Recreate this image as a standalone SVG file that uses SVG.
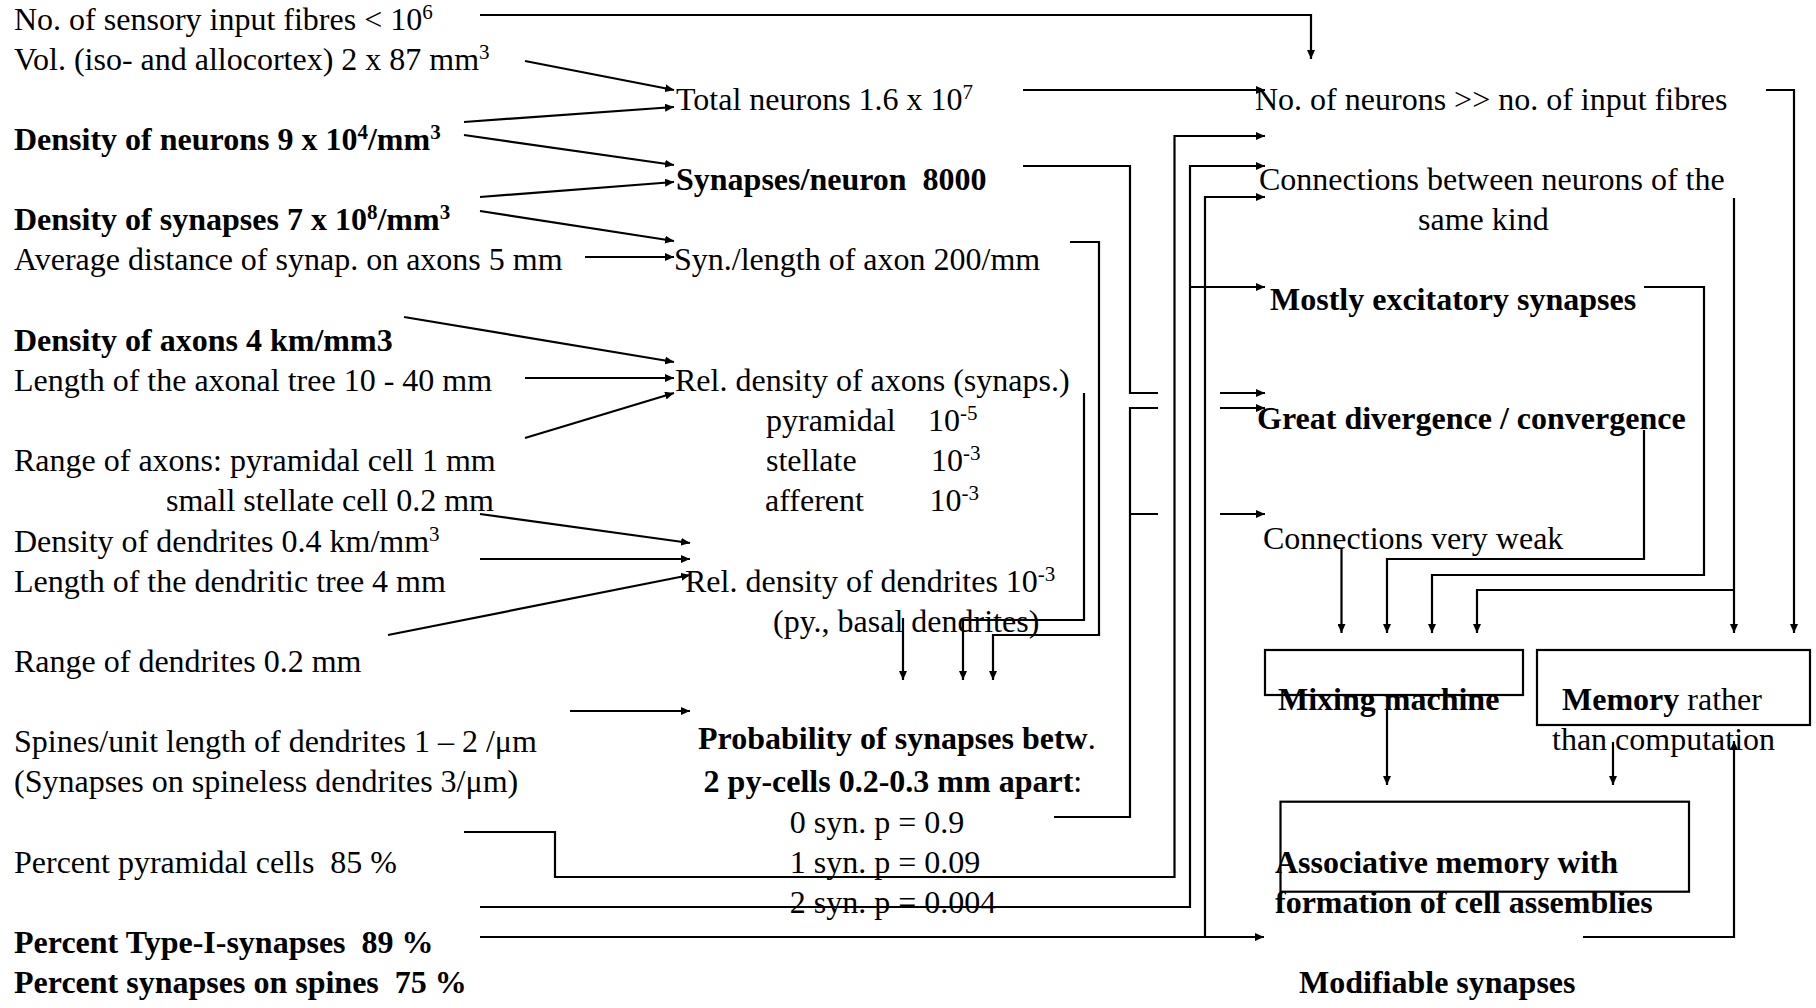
<svg xmlns="http://www.w3.org/2000/svg" width="1816" height="1008" viewBox="0 0 1816 1008">
  <style>
    text { font-family: "Liberation Serif", "Times New Roman", serif; font-size: 32px; fill: #000; }
    .b { font-weight: bold; }
    .sup { font-size: 21px; }
    .ln { fill: none; stroke: #000; stroke-width: 2.2; }
    .ar { fill: none; stroke: #000; stroke-width: 2.2; marker-end: url(#ah); }
    .box { fill: none; stroke: #000; stroke-width: 2.2; }
  </style>
  <defs>
    <marker id="ah" markerWidth="9" markerHeight="8" refX="9" refY="4" orient="auto" markerUnits="userSpaceOnUse">
      <path d="M0,0 L9,4 L0,8 z" fill="#000"/>
    </marker>
  </defs>

  <rect width="1816" height="1008" fill="#fff"/>

  <!-- connectors -->
  <g id="connectors">
    <path class="ar" d="M480,15 H1311 V59"/>
    <path class="ar" d="M525,61 L674,90"/>
    <path class="ar" d="M464,122 L674,107"/>
    <path class="ar" d="M464,135 L674,165"/>
    <path class="ar" d="M480,197 L674,182"/>
    <path class="ar" d="M480,211 L674,241"/>
    <path class="ar" d="M585,257 H674"/>
    <path class="ar" d="M1023,90 H1265"/>
    <path class="ln" d="M1023,166 H1130 V393 H1158"/>
    <path class="ar" d="M1220,393 H1265"/>
    <path class="ar" d="M1070,242 H1099 V635 H993 V680"/>
    <path class="ar" d="M404,317 L674,362"/>
    <path class="ar" d="M525,378 H674"/>
    <path class="ar" d="M525,438 L674,393"/>
    <path class="ar" d="M1084,393 V620 H963 V680"/>
    <path class="ar" d="M480,514 L690,543"/>
    <path class="ar" d="M480,559 H690"/>
    <path class="ar" d="M388,635 L690,575"/>
    <path class="ar" d="M903,618 V680"/>
    <path class="ar" d="M570,711 H690"/>
    <path class="ln" d="M1054,817 H1130 V408 H1158 M1130,514 H1158"/>
    <path class="ar" d="M1220,408 H1265"/>
    <path class="ar" d="M1220,514 H1265"/>
    <path class="ar" d="M464,832 H555 V877 H1174.5 V136 H1265"/>
    <path class="ar" d="M480,907 H1190 V166 H1265"/>
    <path class="ar" d="M1190,287 H1265"/>
    <path class="ar" d="M480,937 H1264"/>
    <path class="ar" d="M1205,937 V197 H1265"/>
    <path class="ar" d="M1766,90 H1794 V633"/>
    <path class="ar" d="M1734,198 V633"/>
    <path class="ar" d="M1734,590 H1477 V633"/>
    <path class="ar" d="M1644,287 H1704 V575 H1432 V633"/>
    <path class="ar" d="M1644,430 V559 H1387 V633"/>
    <path class="ar" d="M1341.5,548 V633"/>
    <path class="ar" d="M1387,710 V785"/>
    <path class="ar" d="M1613,742 V785"/>
    <path class="ar" d="M1583,937 H1734 V741"/>
  </g>

  <!-- input quantities -->
  <g id="n-sensory"><text x="14" y="29.5">No. of sensory input fibres &lt; 10<tspan class="sup" dy="-11">6</tspan></text></g>
  <g id="n-volume"><text x="14" y="69.6">Vol. (iso- and allocortex) 2 x 87 mm<tspan class="sup" dy="-11">3</tspan></text></g>
  <g id="n-neuron-density"><text class="b" x="14" y="149.9">Density of neurons 9 x 10<tspan class="sup" dy="-11">4</tspan><tspan dy="11">/mm</tspan><tspan class="sup" dy="-11">3</tspan></text></g>
  <g id="n-synapse-density"><text class="b" x="14" y="230.2">Density of synapses 7 x 10<tspan class="sup" dy="-11">8</tspan><tspan dy="11">/mm</tspan><tspan class="sup" dy="-11">3</tspan></text></g>
  <g id="n-synapse-distance"><text x="14" y="270.4">Average distance of synap. on axons 5 mm</text></g>
  <g id="n-axon-density"><text class="b" x="14" y="350.7">Density of axons 4 km/mm3</text></g>
  <g id="n-axon-length"><text x="14" y="390.9">Length of the axonal tree 10 - 40 mm</text></g>
  <g id="n-axon-range">
    <text x="14" y="471.2">Range of axons: pyramidal cell 1 mm</text>
    <text x="166" y="511.3">small stellate cell 0.2 mm</text>
  </g>
  <g id="n-dendrite-density"><text x="14" y="551.5">Density of dendrites 0.4 km/mm<tspan class="sup" dy="-11">3</tspan></text></g>
  <g id="n-dendrite-length"><text x="14" y="591.6">Length of the dendritic tree 4 mm</text></g>
  <g id="n-dendrite-range"><text x="14" y="671.9">Range of dendrites 0.2 mm</text></g>
  <g id="n-spines">
    <text x="14" y="752.2">Spines/unit length of dendrites 1 – 2 /μm</text>
    <text x="14" y="792.4">(Synapses on spineless dendrites 3/μm)</text>
  </g>
  <g id="n-pyramidal-percent"><text x="14" y="872.7" xml:space="preserve">Percent pyramidal cells  85 %</text></g>
  <g id="n-type1-percent"><text class="b" x="14" y="953" xml:space="preserve">Percent Type-I-synapses  89 %</text></g>
  <g id="n-spine-percent"><text class="b" x="14" y="993.1" xml:space="preserve">Percent synapses on spines  75 %</text></g>

  <!-- derived quantities -->
  <g id="n-total-neurons"><text x="676" y="110">Total neurons 1.6 x 10<tspan class="sup" dy="-11">7</tspan></text></g>
  <g id="n-synapses-per-neuron"><text class="b" x="676" y="190.1" xml:space="preserve">Synapses/neuron  8000</text></g>
  <g id="n-synapses-per-axon"><text x="674" y="270.4">Syn./length of axon 200/mm</text></g>
  <g id="n-rel-axon-density">
    <text x="675" y="390.9">Rel. density of axons (synaps.)</text>
    <text x="766" y="431">pyramidal<tspan x="928">10</tspan><tspan class="sup" dy="-11">-5</tspan></text>
    <text x="766" y="471.2">stellate<tspan x="931">10</tspan><tspan class="sup" dy="-11">-3</tspan></text>
    <text x="765" y="511.3">afferent<tspan x="929.5">10</tspan><tspan class="sup" dy="-11">-3</tspan></text>
  </g>
  <g id="n-rel-dendrite-density">
    <text x="685" y="591.6">Rel. density of dendrites 10<tspan class="sup" dy="-11">-3</tspan></text>
    <text x="773" y="631.7">(py., basal dendrites)</text>
  </g>
  <g id="n-synapse-probability">
    <text class="b" x="698" y="749">Probability of synapses betw<tspan font-weight="normal">.</tspan></text>
    <text class="b" x="703.6" y="791.7">2 py-cells 0.2-0.3 mm apart<tspan font-weight="normal">:</tspan></text>
    <text x="789.7" y="833">0 syn. p = 0.9</text>
    <text x="789.7" y="873">1 syn. p = 0.09</text>
    <text x="789.7" y="913">2 syn. p = 0.004</text>
  </g>

  <!-- conclusions -->
  <g id="n-neurons-vs-fibres"><text x="1255" y="110">No. of neurons &gt;&gt; no. of input fibres</text></g>
  <g id="n-same-kind">
    <text x="1259" y="190">Connections between neurons of the</text>
    <text x="1418" y="230">same kind</text>
  </g>
  <g id="n-excitatory"><text class="b" x="1270" y="310">Mostly excitatory synapses</text></g>
  <g id="n-divergence"><text class="b" x="1257" y="429">Great divergence / convergence</text></g>
  <g id="n-weak"><text x="1263" y="549">Connections very weak</text></g>
  <g id="n-mixing">
    <rect class="box" x="1265" y="650" width="258" height="45"/>
    <text class="b" x="1278" y="710">Mixing machine</text>
  </g>
  <g id="n-memory">
    <rect class="box" x="1537" y="650" width="273" height="75"/>
    <text x="1562" y="710"><tspan font-weight="bold">Memory</tspan> rather</text>
    <text x="1552" y="750">than computation</text>
  </g>
  <g id="n-associative">
    <rect class="box" x="1280.5" y="801.7" width="408.5" height="90"/>
    <text class="b" x="1275" y="873">Associative memory with</text>
    <text class="b" x="1275" y="913">formation of cell assemblies</text>
  </g>
  <g id="n-modifiable"><text class="b" x="1299" y="993">Modifiable synapses</text></g>
</svg>
